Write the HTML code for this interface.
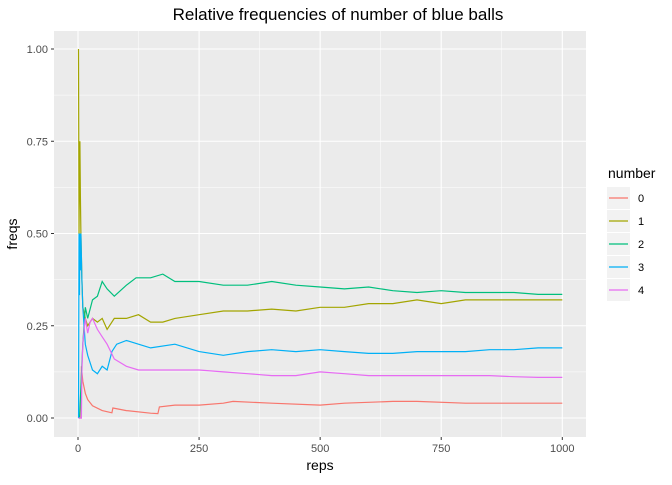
<!DOCTYPE html>
<html><head><meta charset="utf-8"><style>
html,body{margin:0;padding:0;background:#fff;}
svg text{font-family:"Liberation Sans",sans-serif;}
</style></head><body>
<svg id="chart" width="672" height="480" xmlns="http://www.w3.org/2000/svg">
<text x="338" y="20" font-size="17" text-anchor="middle" fill="#000">Relative frequencies of number of blue balls</text>
<rect x="54" y="31" width="532" height="406" fill="#ebebeb"/>
<g id="grid"></g>
<g id="lines"></g>
<g id="axes"></g>
<text x="320" y="470" font-size="14" text-anchor="middle">reps</text>
<text transform="translate(17,234) rotate(-90)" font-size="14" text-anchor="middle">freqs</text>
<g id="legend">
<text x="608" y="178" font-size="14">number</text>
</g>
</svg>
<script>
const xTicks=[0,250,500,750,1000];
const yTicks=[0,0.25,0.5,0.75,1];
const yTickLabels=["0.00","0.25","0.50","0.75","1.00"];
const seriesNames=["0","1","2","3","4"];
const colors=["#F8766D","#A3A500","#00BF7D","#00B0F6","#E76BF3"];
const reps0=[1,6,7,8,10,15,20,30,50,70,72,100,150,165,168,200,250,300,320,400,500,550,650,700,800,900,1000];
const vals0=[0,0,0.14,0.125,0.1,0.067,0.05,0.033,0.02,0.014,0.027,0.02,0.013,0.012,0.03,0.035,0.035,0.04,0.045,0.04,0.035,0.04,0.045,0.045,0.04,0.04,0.04];
const reps1=[1,2,3,4,5,6,8,10,15,20,30,40,50,60,75,100,125,150,175,200,250,300,350,400,450,500,550,600,650,700,750,800,850,900,950,1000];
const vals1=[1,0.5,0.667,0.75,0.6,0.5,0.375,0.3,0.27,0.25,0.27,0.26,0.27,0.24,0.27,0.27,0.28,0.26,0.26,0.27,0.28,0.29,0.29,0.295,0.29,0.30,0.30,0.31,0.31,0.32,0.31,0.32,0.32,0.32,0.32,0.32];
const reps2=[1,3,10,15,20,30,40,50,60,75,100,120,150,175,200,250,300,350,400,450,500,550,600,650,700,750,800,850,900,950,1000];
const vals2=[0,0,0.2,0.3,0.27,0.32,0.33,0.37,0.35,0.33,0.36,0.38,0.38,0.39,0.37,0.37,0.36,0.36,0.37,0.36,0.355,0.35,0.355,0.345,0.34,0.345,0.34,0.34,0.34,0.335,0.335];
const reps3=[1,2,3,4,5,6,8,10,15,20,30,40,50,60,70,80,100,125,150,200,250,300,350,400,450,500,550,600,650,700,750,800,850,900,950,1000];
const vals3=[0,0.5,0.333,0.5,0.4,0.5,0.375,0.3,0.2,0.17,0.13,0.12,0.14,0.13,0.18,0.2,0.21,0.2,0.19,0.2,0.18,0.17,0.18,0.185,0.18,0.185,0.18,0.175,0.175,0.18,0.18,0.18,0.185,0.185,0.19,0.19];
const reps4=[1,7,8,10,15,20,25,30,40,50,60,75,100,125,150,200,250,300,350,400,450,500,550,600,650,700,750,800,850,900,950,1000];
const vals4=[0,0,0.125,0.2,0.27,0.23,0.26,0.27,0.24,0.22,0.2,0.16,0.14,0.13,0.13,0.13,0.13,0.125,0.12,0.115,0.115,0.125,0.12,0.115,0.115,0.115,0.115,0.115,0.115,0.112,0.11,0.11];
const allReps=[reps0,reps1,reps2,reps3,reps4];
const allVals=[vals0,vals1,vals2,vals3,vals4];

const NS="http://www.w3.org/2000/svg";
const xs=v=>78+v*0.4843;
const ys=v=>418-v*369;
function mk(tag,attrs,parent){const e=document.createElementNS(NS,tag);for(const k in attrs)e.setAttribute(k,attrs[k]);parent.appendChild(e);return e;}
const grid=document.getElementById('grid'),axes=document.getElementById('axes'),lines=document.getElementById('lines'),legend=document.getElementById('legend');
// minor grid
for(let i=0;i<xTicks.length-1;i++){const x=xs((xTicks[i]+xTicks[i+1])/2);
 const l=mk('line',{x1:x,x2:x,y1:31,y2:437,stroke:'#fff','stroke-width':0.5},grid);
 
 }
for(let i=0;i<yTicks.length-1;i++){const y=ys((yTicks[i]+yTicks[i+1])/2);
 const l=mk('line',{x1:54,x2:586,y1:y,y2:y,stroke:'#fff','stroke-width':0.5},grid);
 
 }
xTicks.forEach(t=>{const x=xs(t);
 const g=mk('line',{x1:x,x2:x,y1:31,y2:437,stroke:'#fff','stroke-width':1.1},grid);
 
 
 mk('line',{x1:x,x2:x,y1:437,y2:440,stroke:'#333','stroke-width':1},axes);
 const tx=mk('text',{x:x,y:452,'font-size':11,fill:'#4d4d4d','text-anchor':'middle'},axes);tx.textContent=t;
 
 });
yTicks.forEach((t,i)=>{const y=ys(t);
 const g=mk('line',{x1:54,x2:586,y1:y,y2:y,stroke:'#fff','stroke-width':1.1},grid);
 
 
 mk('line',{x1:51,x2:54,y1:y,y2:y,stroke:'#333','stroke-width':1},axes);
 const tx=mk('text',{x:48,y:y+4,'font-size':11,fill:'#4d4d4d','text-anchor':'end'},axes);tx.textContent=yTickLabels[i];
 
 });
allReps.forEach((r,s)=>{
 const pts=r.map((v,i)=>xs(v).toFixed(1)+','+ys(allVals[s][i]).toFixed(1)).join(' ');
 const p=mk('polyline',{points:pts,fill:'none',stroke:colors[s],'stroke-width':1.2},lines);
 
 
 const y=198+s*23;
 const k=mk('rect',{x:607,y:y-11,width:23,height:22,fill:'#f2f2f2'},legend);
 
 
 mk('line',{x1:609,x2:628,y1:y,y2:y,stroke:colors[s],'stroke-width':1.2},legend);
 const t=mk('text',{x:638,y:y+4,'font-size':11,fill:'#000'},legend);t.textContent=seriesNames[s];
 
 
});
</script>
</body></html>
